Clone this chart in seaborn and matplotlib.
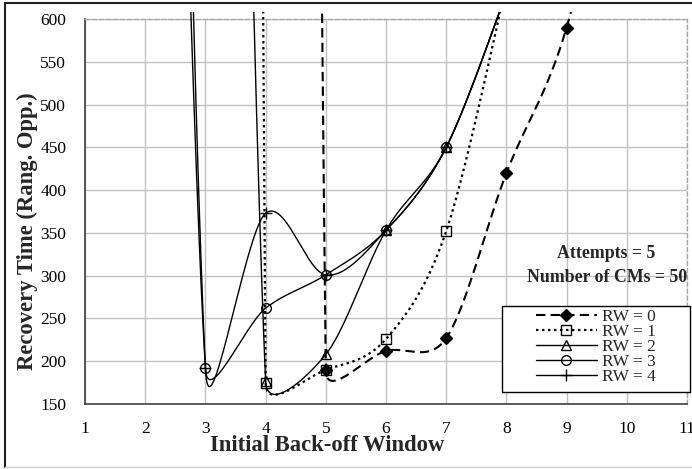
import numpy as np
import matplotlib
matplotlib.use("Agg")
import matplotlib.pyplot as plt
import seaborn as sns
from matplotlib.lines import Line2D
from matplotlib.patches import Rectangle
from matplotlib.transforms import Bbox, TransformedBbox

# Recovery time (ranging opportunities) versus initial back-off window,
# one series per RW setting. Values far above the axis describe the
# steep fall-off on the left of each curve.
rw0_window = [4, 5, 6, 7, 8, 9, 10]
rw0_time = [12000, 190, 212, 227, 420, 590, 900]
rw1_window = [3, 4, 5, 6, 7, 8]
rw1_time = [20000, 175, 190, 226, 352, 640]
rw2_window = [3, 4, 5, 6, 7, 8]
rw2_time = [3400, 177, 208, 353, 450, 630]
rw3_window = [2, 3, 4, 5, 6, 7, 8]
rw3_time = [2600, 192, 262, 301, 353, 450, 630]
rw4_window = [2, 3, 4, 5, 6, 7, 8]
rw4_time = [3300, 192, 373, 301, 353, 450, 630]

series_labels = ["RW = 0", "RW = 1", "RW = 2", "RW = 3", "RW = 4"]
x_ticks = list(range(1, 12))
y_ticks = list(range(150, 601, 50))

sns.set_style("whitegrid")
plt.rcParams["font.family"] = ["Liberation Serif", "DejaVu Serif"]

W, H = 692, 469
fig = plt.figure(figsize=(W / 100, H / 100), dpi=100)
L, R, T, B = 85, 687, 19, 404
ax = fig.add_axes([L / W, 1 - B / H, (R - L) / W, (B - T) / H])
ax.set_xlim(1, 11)
ax.set_ylim(150, 600)


def smooth_curve(xs, ys, n=3000):
    """Bezier smoothing in screen space, spreadsheet style."""
    pts = ax.transData.transform(np.column_stack([xs, ys]).astype(float))
    m = len(pts)
    out = [pts[:1]]
    t = np.linspace(0, 1, n)[1:, None]
    for i in range(m - 1):
        p1, p2 = pts[i], pts[i + 1]
        p0 = pts[i - 1] if i > 0 else p1
        p3 = pts[i + 2] if i + 2 < m else p2
        d12 = np.linalg.norm(p2 - p1)
        d02 = np.linalg.norm(p2 - p0)
        d13 = np.linalg.norm(p3 - p1)
        f1 = min(1 / 6, 0.5 * d12 / d02) if d02 > 0 else 0
        f2 = min(1 / 6, 0.5 * d12 / d13) if d13 > 0 else 0
        c1 = p1 + (p2 - p0) * f1
        c2 = p2 - (p3 - p1) * f2
        seg = ((1 - t) ** 3 * p1 + 3 * (1 - t) ** 2 * t * c1
               + 3 * (1 - t) * t ** 2 * c2 + t ** 3 * p2)
        out.append(seg)
    return ax.transData.inverted().transform(np.vstack(out))


styles = [
    dict(ls=(0, (4.5, 2.5)), lw=1.5, marker="D", ms=6, mfc="black"),
    dict(ls=(0, (1.1, 1.6)), lw=1.6, marker="s", ms=6.5, mfc="none"),
    dict(ls="-", lw=1.0, marker="^", ms=7, mfc="none"),
    dict(ls="-", lw=1.0, marker="o", ms=7, mfc="none"),
    dict(ls="-", lw=1.0, marker="+", ms=9, mfc="none"),
]
data = [(rw0_window, rw0_time), (rw1_window, rw1_time), (rw2_window, rw2_time),
        (rw3_window, rw3_time), (rw4_window, rw4_time)]

clip = TransformedBbox(Bbox.from_extents(0, 0, 1, 1 + 7 / (B - T)), ax.transAxes)

for (xs, ys), st in zip(data, styles):
    curve = smooth_curve(xs, ys)
    n_before = len(ax.lines)
    sns.lineplot(x=curve[:, 0], y=curve[:, 1], sort=False, estimator=None,
                 color="black", linewidth=st["lw"], linestyle=st["ls"], ax=ax)
    for ln in ax.lines[n_before:]:
        ln.set_clip_box(clip)
        ln.set_zorder(3)
    sns.lineplot(x=xs, y=ys, sort=False, estimator=None, color="black",
                 linestyle="none", marker=st["marker"], markersize=st["ms"],
                 markerfacecolor=st["mfc"], markeredgecolor="black",
                 markeredgewidth=1.0, ax=ax, zorder=4)

ax.set_xticks(x_ticks)
ax.set_yticks(y_ticks)
ax.set_xticklabels([str(v) for v in x_ticks])
ax.set_yticklabels([str(v) for v in y_ticks])
ax.grid(True, color="#c0c0c0", linewidth=1.0, linestyle="-")
ax.tick_params(axis="x", direction="inout", length=8, width=1, color="#404040",
               labelsize=12.5, labelcolor="black", pad=8.5)
ax.tick_params(axis="y", direction="out", length=6, width=1, color="#404040",
               labelsize=12.5, labelcolor="black", pad=7.5)
for name, sp in ax.spines.items():
    sp.set_visible(True)
    if name in ("bottom", "left"):
        sp.set_color("#404040")
        sp.set_linewidth(1.2)
    else:
        sp.set_color("#a8a8a8")
        sp.set_linestyle((0, (3, 2)))
        sp.set_linewidth(1.0)
ax.set_xlabel("")
ax.set_ylabel("")

fig.text(327 / W, 1 - 445 / H, "Initial Back-off Window", ha="center", va="center",
         fontsize=16.3, fontweight="bold")
fig.text(27 / W, 1 - 231 / H, "Recovery Time (Rang. Opp.)", ha="center", va="center",
         rotation=90, fontsize=16.3, fontweight="bold")
fig.text(606 / W, 1 - 253 / H, "Attempts = 5", ha="center", va="center",
         fontsize=12.8, fontweight="bold")
fig.text(607 / W, 1 - 278 / H, "Number of CMs = 50", ha="center", va="center",
         fontsize=12.8, fontweight="bold")

# Legend with a plain rectangular frame behind it
ax.add_patch(Rectangle((502 / W, 1 - 392 / H), (690 - 502) / W, (392 - 306) / H,
                       transform=fig.transFigure, facecolor="white",
                       edgecolor="black", linewidth=1.0, zorder=5, clip_on=False))
handles = [Line2D([], [], color="black", linestyle=st["ls"], linewidth=st["lw"],
                  marker=st["marker"], markersize=st["ms"],
                  markerfacecolor=st["mfc"], markeredgecolor="black",
                  markeredgewidth=1.0) for st in styles]
leg = ax.legend(handles, series_labels, loc="upper left", frameon=False,
                bbox_to_anchor=((536 - L) / (R - L), (B - 309) / (B - T)),
                fontsize=12.5, handlelength=3.5, handletextpad=0.3,
                labelspacing=-0.07, borderpad=0.0, borderaxespad=0.0)
leg.set_zorder(6)

# Chart border
fig.add_artist(Line2D([5 / W, 1], [1 - 3 / H, 1 - 3 / H], color="#202020", lw=1.5,
                      transform=fig.transFigure))
fig.add_artist(Line2D([5 / W, 5 / W], [1 - 467 / H, 1 - 3 / H], color="#202020", lw=1.5,
                      transform=fig.transFigure))
fig.add_artist(Line2D([5 / W, 1], [1 - 467 / H, 1 - 467 / H], color="#d0d0d0", lw=1.0,
                      transform=fig.transFigure))

fig.savefig("out.png", dpi=100)
